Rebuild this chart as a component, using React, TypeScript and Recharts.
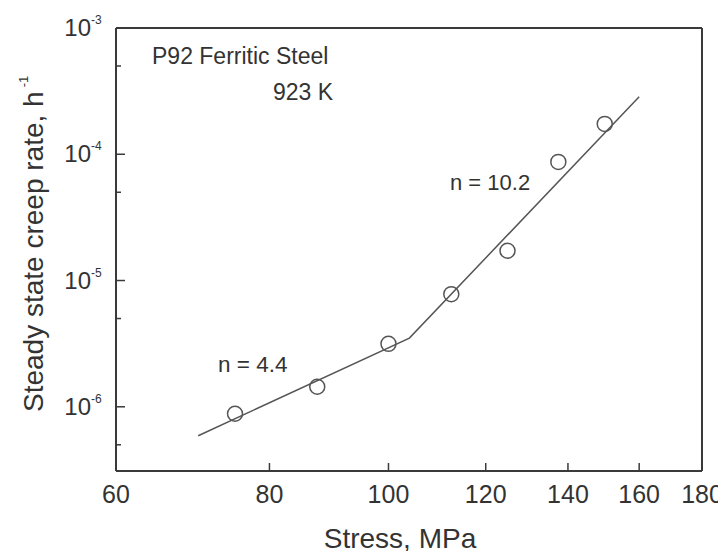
import { ScatterChart, Scatter, XAxis, YAxis } from "recharts";

// measured points (stress in MPa, steady state creep rate in 1/h)
const stress = [75, 87.5, 100, 112.5, 125, 137.5, 150];
const creepRate = [8.8e-7, 1.44e-6, 3.15e-6, 7.8e-6, 1.72e-5, 8.7e-5, 1.74e-4];

// two-slope power law fit, break near 104 MPa
const fitStress = [70, 104, 160];
const fitRate = [5.9e-7, 3.5e-6, 2.85e-4];

const xTicks = [60, 80, 100, 120, 140, 160, 180];
const yMajorTicks = [1e-6, 1e-5, 1e-4, 1e-3];
const yMinorTicks = [5e-7, 5e-6, 5e-5, 5e-4];

const FONT = '"Liberation Sans", Arial, Helvetica, sans-serif';
const INK = "#333";
const AXIS = "#3a3a3a";

const points = stress.map((s, i) => ({ x: s, y: creepRate[i] }));
const fit = fitStress.map((s, i) => ({ x: s, y: fitRate[i] }));

function XTick(props: any) {
  const { x, y, payload } = props;
  return (
    <g>
      <line x1={x} x2={x} y1={y} y2={y - 8} stroke={AXIS} strokeWidth={1.5} />
      <text x={x} y={y + 32} textAnchor="middle" fontSize={25} fontFamily={FONT} fill={INK}>
        {payload.value}
      </text>
    </g>
  );
}

function YTick(props: any) {
  const { x, y, payload } = props;
  const v = payload.value;
  const isMajor = yMajorTicks.some((t) => Math.abs(t - v) / t < 1e-6);
  if (!isMajor) {
    return <line x1={x} x2={x + 5} y1={y} y2={y} stroke={AXIS} strokeWidth={1.5} />;
  }
  const exp = Math.round(Math.log10(v));
  return (
    <g>
      <line x1={x} x2={x + 9} y1={y} y2={y} stroke={AXIS} strokeWidth={1.5} />
      <text x={x - 25} y={y + 8} textAnchor="end" fontSize={24} fontFamily={FONT} fill={INK}>
        10
      </text>
      <text x={x - 25} y={y - 4} textAnchor="start" fontSize={12} fontFamily={FONT} fill={INK}>
        {exp}
      </text>
    </g>
  );
}

function OpenCircle(props: any) {
  const { cx, cy } = props;
  return <circle cx={cx} cy={cy} r={7.5} fill="none" stroke="#555" strokeWidth={1.5} />;
}

export default function App() {
  return (
    <div style={{ width: 718, height: 551, marginBottom: -8, background: "#fff" }}>
      <ScatterChart width={718} height={551} margin={{ top: 19, right: 23, bottom: 87, left: 107 }}>
        <XAxis
          type="number"
          dataKey="x"
          scale="log"
          domain={[60, 180]}
          ticks={xTicks}
          allowDataOverflow
          height={1}
          tickSize={0}
          tickMargin={0}
          tickLine={false}
          tick={<XTick />}
          axisLine={{ stroke: AXIS, strokeWidth: 2 }}
          interval={0}
        />
        <YAxis
          type="number"
          dataKey="y"
          scale="log"
          domain={[3.1e-7, 1e-3]}
          ticks={[...yMinorTicks, ...yMajorTicks].sort((a, b) => a - b)}
          allowDataOverflow
          width={1}
          tickSize={0}
          tickMargin={0}
          tickLine={false}
          tick={<YTick />}
          axisLine={{ stroke: AXIS, strokeWidth: 2 }}
          interval={0}
        />
        {/* frame: top and right edges */}
        <XAxis xAxisId="top" orientation="top" type="number" domain={[0, 1]} height={1} tick={false} tickLine={false} axisLine={{ stroke: AXIS, strokeWidth: 2 }} />
        <YAxis yAxisId="right" orientation="right" type="number" domain={[0, 1]} width={1} tick={false} tickLine={false} axisLine={{ stroke: AXIS, strokeWidth: 2 }} />
        <Scatter
          data={fit}
          line={{ stroke: "#555", strokeWidth: 1.5 }}
          shape={() => <g />}
          isAnimationActive={false}
        />
        <Scatter data={points} shape={<OpenCircle />} isAnimationActive={false} />

        <text x={144} y={56} fontSize={23} fontFamily={FONT} fill={INK}>
          P92 Ferritic Steel
        </text>
        <text x={325} y={92} textAnchor="end" fontSize={23} fontFamily={FONT} fill={INK}>
          923 K
        </text>
        <text x={210} y={364} fontSize={22.5} fontFamily={FONT} fill={INK}>
          n = 4.4
        </text>
        <text x={442} y={182} fontSize={22} fontFamily={FONT} fill={INK}>
          n = 10.2
        </text>

        <text x={392} y={540} textAnchor="middle" fontSize={28} fontFamily={FONT} fill={INK}>
          Stress, MPa
        </text>
        <text transform="rotate(-90, 35, 404)" x={35} y={404} fontSize={28} fontFamily={FONT} fill={INK}>
          Steady state creep rate, h
          <tspan fontSize={13} dx={4} dy={-15}>
            -1
          </tspan>
        </text>
      </ScatterChart>
    </div>
  );
}
